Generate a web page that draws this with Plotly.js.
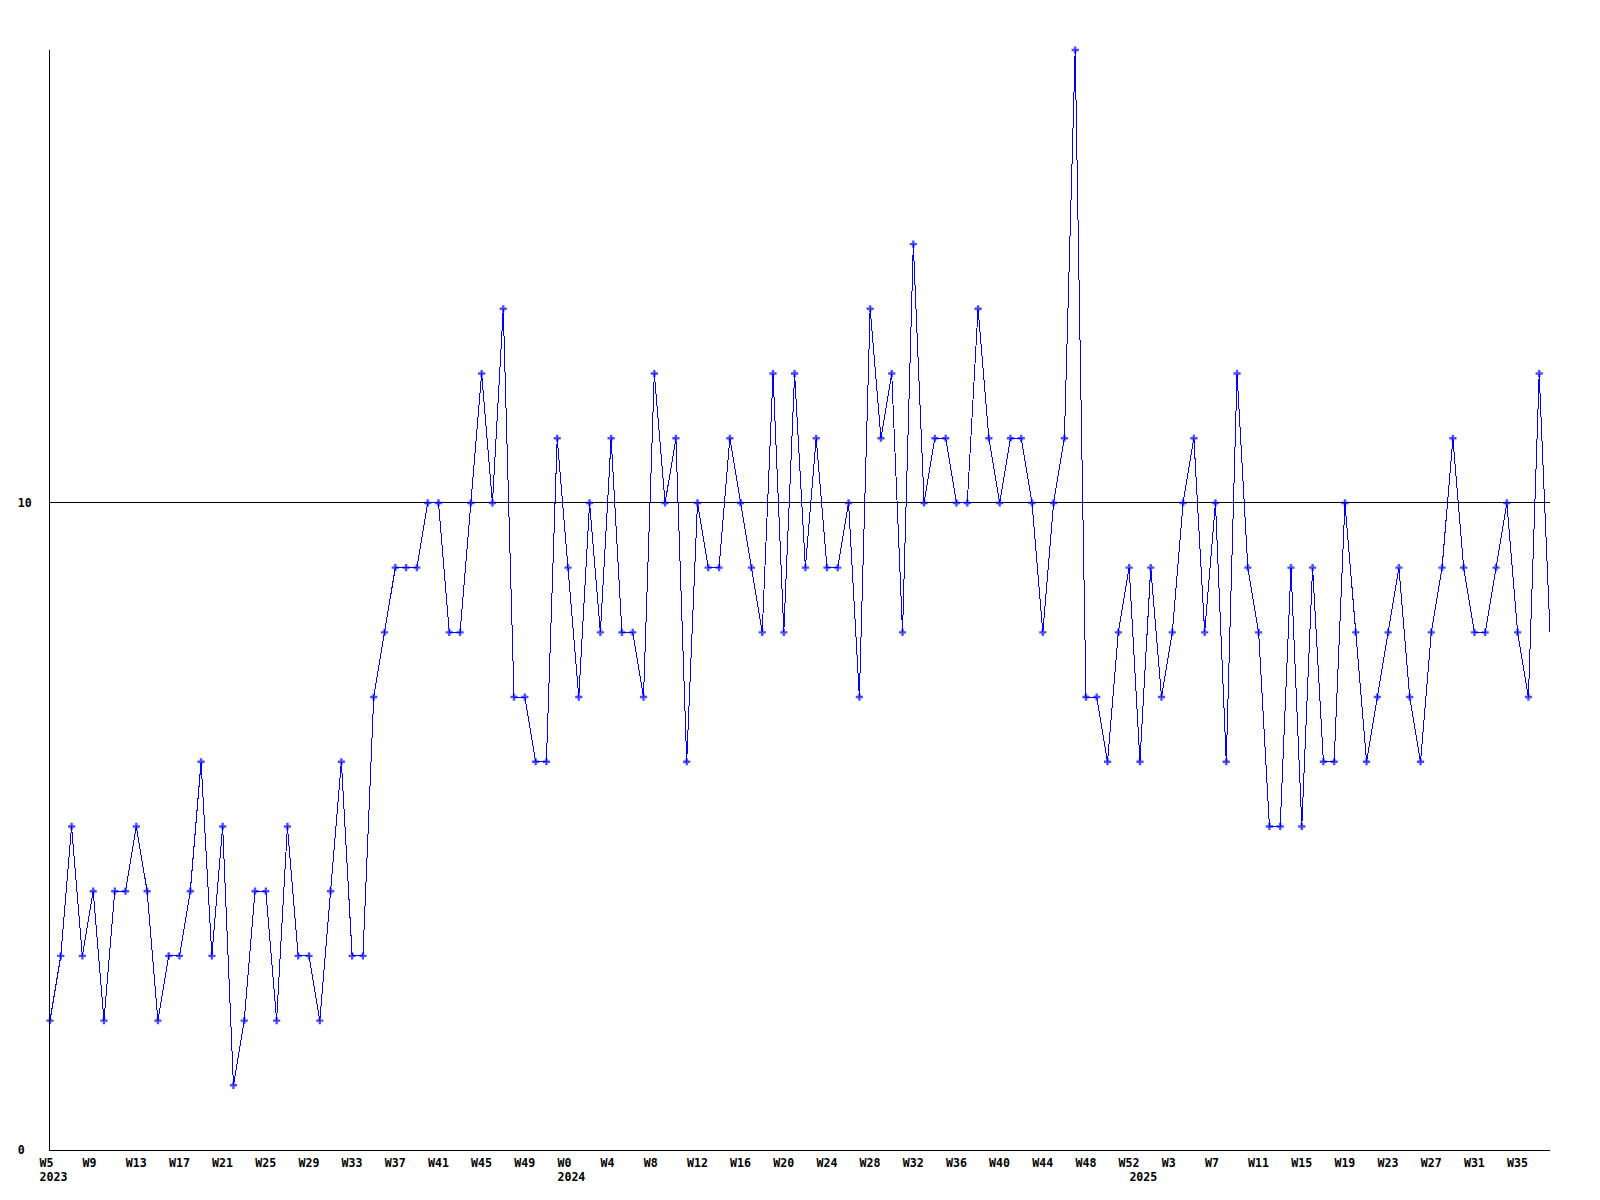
<!DOCTYPE html>
<html>
<head>
<meta charset="utf-8">
<script src="https://cdn.plot.ly/plotly-3.0.1.min.js"></script>
<style>
html,body{margin:0;padding:0;background:#fff;}
#chart{width:1600px;height:1200px;}
.js-line{shape-rendering:crispEdges;}
</style>
</head>
<body>
<div id="chart"></div>
<script>
// weekly values, W5 2023 .. W38 2025
const values = [
  2,3,5,3,4,2,4,4,5,4,2,3,3,4,6,3,5,1,2,4,4,2,5,3,3,
  2,4,6,3,3,7,8,9,9,9,10,10,8,8,10,12,10,13,7,7,6,6,11,9,
  7,10,8,11,8,8,7,12,10,11,6,10,9,9,11,10,9,8,12,8,12,9,11,9,
  9,10,7,13,11,12,8,14,10,11,11,10,10,13,11,10,11,11,10,8,10,11,17,7,
  7,6,8,9,6,9,7,8,10,11,8,10,6,12,9,8,5,5,9,5,9,6,6,10,
  8,6,7,8,9,7,6,8,9,11,9,8,8,9,10,8,7,12,8
];

// x tick labels (every 4th week)
const tickWeeks = [
  "W5","W9","W13","W17","W21","W25","W29","W33","W37","W41","W45","W49",
  "W0","W4","W8","W12","W16","W20","W24","W28","W32","W36","W40","W44","W48","W52",
  "W3","W7","W11","W15","W19","W23","W27","W31","W35"
];
const tickStep = 4;

// year labels and the week index where each year starts
const yearLabels = ["2023", "2024", "2025"];
const yearStartIndex = [0, 48, 101];

// y tick labels
const yTickVals = [0, 10];
const yTickText = ["0", "10"];

const NB = "\u00A0";
const pad = (s, n) => s + NB.repeat(Math.max(0, n - s.length));
const labelShift = 0.315; // left-align labels at the start of the week

const xs = values.map((v, i) => i);
const tickvals = tickWeeks.map((w, k) => k * tickStep + labelShift);
const ticktext = tickWeeks.map(w => pad(w, 4));
const yearvals = yearStartIndex.map(i => i + labelShift);

const font = {family: "DejaVu Sans Mono, monospace", size: 11.6, weight: "bold", color: "#000"};

const trace = {
  x: xs,
  y: values,
  type: "scatter",
  mode: "lines+markers",
  line: {color: "#0000ff", width: 1},
  marker: {
    symbol: "cross",
    size: values.map((v, i) => i === values.length - 1 ? 0 : 6),
    color: "#0000ff",
    line: {width: 0}
  },
  cliponaxis: false,
  hoverinfo: "skip"
};

const yearTrace = {
  x: [], y: [], type: "scatter", mode: "markers",
  xaxis: "x2", yaxis: "y", hoverinfo: "skip", showlegend: false
};

const xRange = [0, values.length - 1];

const layout = {
  width: 1600,
  height: 1200,
  margin: {l: 50, r: 50, t: 50, b: 50, pad: 0},
  paper_bgcolor: "#fff",
  plot_bgcolor: "#fff",
  showlegend: false,
  font: font,
  xaxis: {
    range: xRange,
    showgrid: false,
    zeroline: false,
    showline: true,
    linecolor: "#000",
    linewidth: 1,
    ticks: "",
    tickmode: "array",
    tickvals: tickvals,
    ticktext: ticktext,
    tickangle: 0,
    tickfont: font,
    ticklabelstandoff: 2,
    fixedrange: true
  },
  xaxis2: {
    overlaying: "x",
    anchor: "y",
    side: "bottom",
    range: xRange,
    showgrid: false,
    zeroline: false,
    showline: false,
    ticks: "",
    tickmode: "array",
    tickvals: yearvals,
    ticktext: yearLabels.map(y => pad(y, 4)),
    tickangle: 0,
    tickfont: font,
    ticklabelstandoff: 18,
    fixedrange: true
  },
  yaxis: {
    range: [0, 17],
    showgrid: true,
    gridcolor: "#000",
    gridwidth: 1,
    zeroline: false,
    showline: true,
    linecolor: "#000",
    linewidth: 1,
    ticks: "",
    tickmode: "array",
    tickvals: yTickVals,
    ticktext: yTickText.map(t => pad(t, 2)),
    tickfont: font,
    ticklabelstandoff: 15,
    fixedrange: true
  }
};

Plotly.newPlot("chart", [trace, yearTrace], layout, {staticPlot: true, displayModeBar: false});
</script>
</body>
</html>
